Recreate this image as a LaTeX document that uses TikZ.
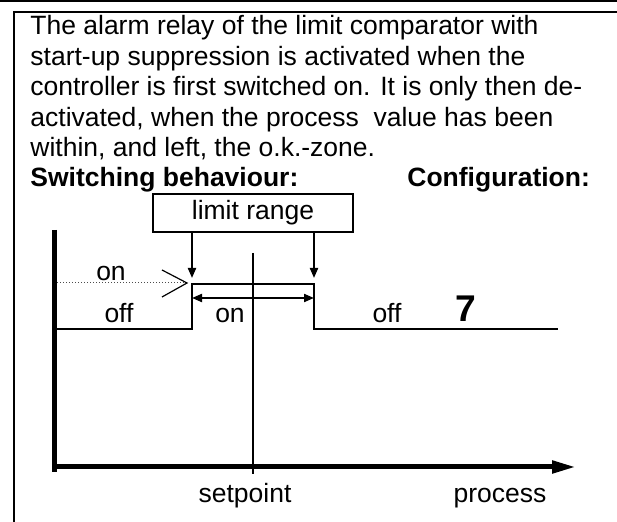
\documentclass[tikz,border=0pt]{standalone}
\usepackage{fontspec}
\setmainfont{Liberation Sans}
\usetikzlibrary{arrows.meta}

\tikzset{
  txt/.style={font=\fontsize{13.25pt}{15.2pt}\selectfont, inner sep=0pt},
  bodyline/.style={txt, anchor=base west},
  lbl/.style={txt, anchor=base},
  thinline/.style={line width=1pt},
  stepline/.style={line width=1.35pt, line join=miter},
  tip/.style={-{Triangle[length=5pt, width=4pt]}}
}

\begin{document}
\begin{tikzpicture}[x=0.5pt, y=-0.5pt]

\useasboundingbox (0,0) rectangle (617,522);

% Frame
\draw[thinline] (0,1.5) -- (617,1.5);
\draw[thinline] (617,12.5) -- (13.5,12.5) -- (13.5,522);

% Description text
\node[bodyline] (l1) at (30,35) {The alarm relay of the limit comparator with};
\node[bodyline] (l2) at (30,65.4) {start-up suppression is activated when the};
\node[bodyline] (l3) at (30,95.8) {controller is first switched on. It is only then de-};
\node[bodyline] (l4) at (30,126.2) {activated, when the process~ value has been};
\node[bodyline] (l5) at (30,156.6) {within, and left, the o.k.-zone.};
\node[bodyline, font=\fontsize{13.25pt}{15.2pt}\selectfont\bfseries] (sw) at (30,187) {Switching behaviour:};
\node[bodyline, font=\fontsize{13.25pt}{15.2pt}\selectfont\bfseries] (cfg) at (407,187) {Configuration:};

% Limit range box
\node[txt, draw, thinline, minimum width=100pt, minimum height=19pt] (range) at (253,213) {limit range};

% Switching points
\coordinate (offL) at (54,329);
\coordinate (upL) at (192,329);
\coordinate (onL) at (192,284);
\coordinate (onR) at (314,284);
\coordinate (upR) at (314,329);
\coordinate (offR) at (558,329);
\coordinate (tipL) at (192,278);
\coordinate (tipR) at (314,278);

\draw[stepline] (offL) -- (upL) -- (onL) -- (onR) -- (upR) -- (offR);
\draw[thinline, tip] (range.south -| tipL) -- (tipL);
\draw[thinline, tip] (range.south -| tipR) -- (tipR);
\draw[thinline, {Triangle[length=5pt, width=4pt]}-{Triangle[length=5pt, width=4pt]}] (192,298) -- (314,298);

% Start-up state
\draw[black!70, densely dotted, line width=0.5pt] (57,283) -- (186,283);
\draw[line width=0.6pt] (162,270) -- (187,283) -- (162,297);

% Axes
\draw[thinline] (253,253) -- (253,474);
\draw[line width=2.5pt] (54.5,230) -- (54.5,472);
\draw[line width=2.5pt, -{Triangle[length=12pt, width=6pt]}] (52,467) -- (576,467);

% Labels
\node[lbl] (on1) at (111,281) {on};
\node[lbl] (off1) at (119,323) {off};
\node[lbl] (on2) at (230,323) {on};
\node[lbl] (off2) at (387,323) {off};
\node[lbl, font=\fontsize{18.6pt}{20pt}\selectfont\bfseries] (seven) at (465.5,321.5) {7};
\node[lbl] (sp) at (245,503) {setpoint};
\node[lbl] (pv) at (500,503) {process};

\end{tikzpicture}
\end{document}
